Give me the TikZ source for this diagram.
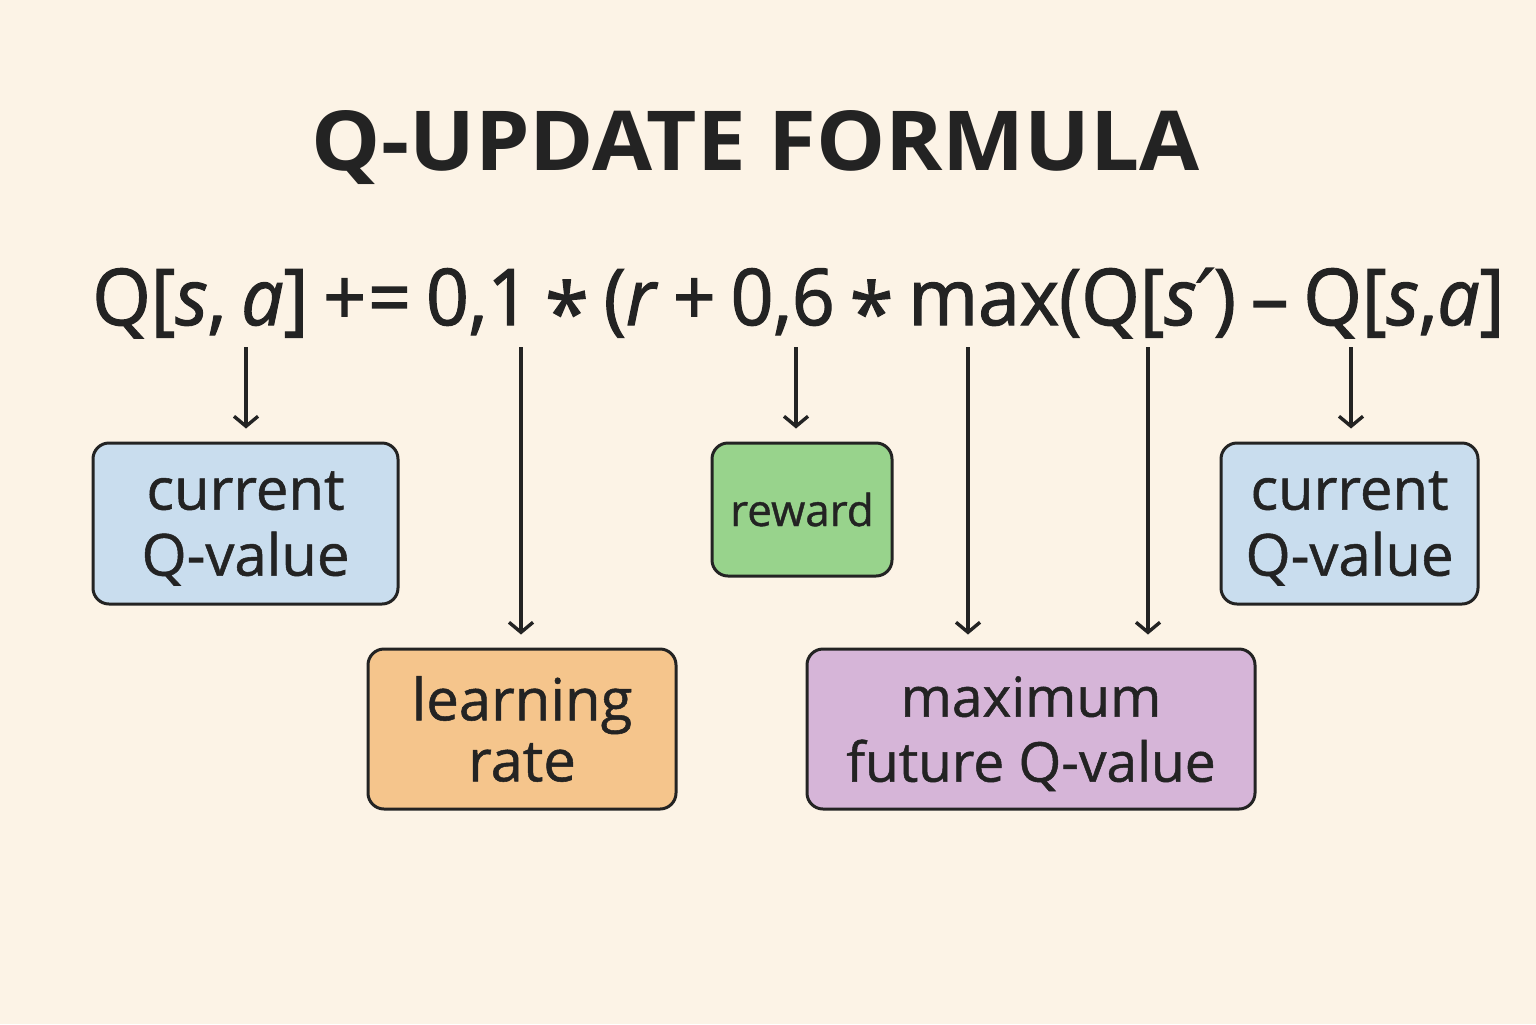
\documentclass[tikz,border=0pt]{standalone}
\usepackage{fontspec}
\setmainfont{Open Sans}
\newfontfamily\medfont[FakeBold=1.6]{Open Sans}
\newfontfamily\boxfont[FakeBold=0.9]{Open Sans}
\newfontfamily\dejavu[FakeBold=1.4]{DejaVu Sans}
\usetikzlibrary{arrows.meta}
\definecolor{bg}{HTML}{FCF3E6}
\definecolor{ink}{HTML}{232323}
\definecolor{cblue}{HTML}{C9DDEE}
\definecolor{corange}{HTML}{F5C58C}
\definecolor{cgreen}{HTML}{98D38C}
\definecolor{cpurple}{HTML}{D6B5D8}
\newcommand\qast{\raisebox{-0.22em}{\fontsize{40}{40}\selectfont *}}
\begin{document}
\begin{tikzpicture}[x=0.5pt,y=-0.5pt,
 box/.style={draw=ink,line width=1.5pt,rounded corners=8pt,align=center,inner sep=0pt,text=ink},
 arr/.style={draw=ink,line width=1.7pt,-{Straight Barb[length=5pt,width=12pt,line width=1.7pt]},shorten >=6.5pt}]
\fill[bg] (0,0) rectangle (1536,1024);
\useasboundingbox (0,0) rectangle (1536,1024);
\node[anchor=base,text=ink,inner sep=0pt] (title) at (756,170)
  {\resizebox{444pt}{30pt}{\fontsize{42}{42}\selectfont\bfseries Q-UPDATE FORMULA}};
\node[anchor=base west,text=ink,inner sep=0pt] (formula) at (92,325)
  {\resizebox{706pt}{28.5pt}{\fontsize{38}{38}\selectfont\medfont\spaceskip=0.2em plus 0.05em Q[\textit{s}, \textit{a}] +\kern1pt= 0,1 \qast{} (\textit{r} + 0,6 \qast{} max(Q[\textit{s}{\dejavu\textit{′}}) – Q[\textit{s},\textit{a}]}};
\coordinate (p1) at (246,347);
\coordinate (p2) at (521,347);
\coordinate (p3) at (796,347);
\coordinate (p4) at (968,347);
\coordinate (p5) at (1148,347);
\coordinate (p6) at (1351,347);
\node[box,fill=cblue,minimum width=152.5pt,minimum height=80.5pt,font=\boxfont\fontsize{29}{33}\selectfont,text depth=0pt] (cq1) at (245.5,523.5) {\raisebox{-6pt}{}current\\Q-value};
\node[box,fill=corange,minimum width=154pt,minimum height=80pt,font=\boxfont\fontsize{29}{30.5}\selectfont] (lr) at (522,729) {learning\\rate};
\node[box,fill=cgreen,minimum width=90pt,minimum height=66.5pt,font=\boxfont\fontsize{22}{26}\selectfont] (rw) at (802,509.5) {reward};
\node[box,fill=cpurple,minimum width=224pt,minimum height=80pt,font=\boxfont\fontsize{27.5}{32.5}\selectfont,text depth=0pt] (mx) at (1031,729) {\raisebox{-5pt}{}maximum\\future Q-value};
\node[box,fill=cblue,minimum width=128.5pt,minimum height=80.5pt,font=\boxfont\fontsize{29}{33}\selectfont,text depth=0pt] (cq2) at (1349.5,523.5) {\raisebox{-6pt}{}current\\Q-value};
\draw[arr] (p1) -- (p1 |- cq1.north);
\draw[arr] (p2) -- (p2 |- lr.north);
\draw[arr] (p3) -- (p3 |- rw.north);
\draw[arr] (p4) -- (p4 |- mx.north);
\draw[arr] (p5) -- (p5 |- mx.north);
\draw[arr] (p6) -- (p6 |- cq2.north);
\end{tikzpicture}
\end{document}
